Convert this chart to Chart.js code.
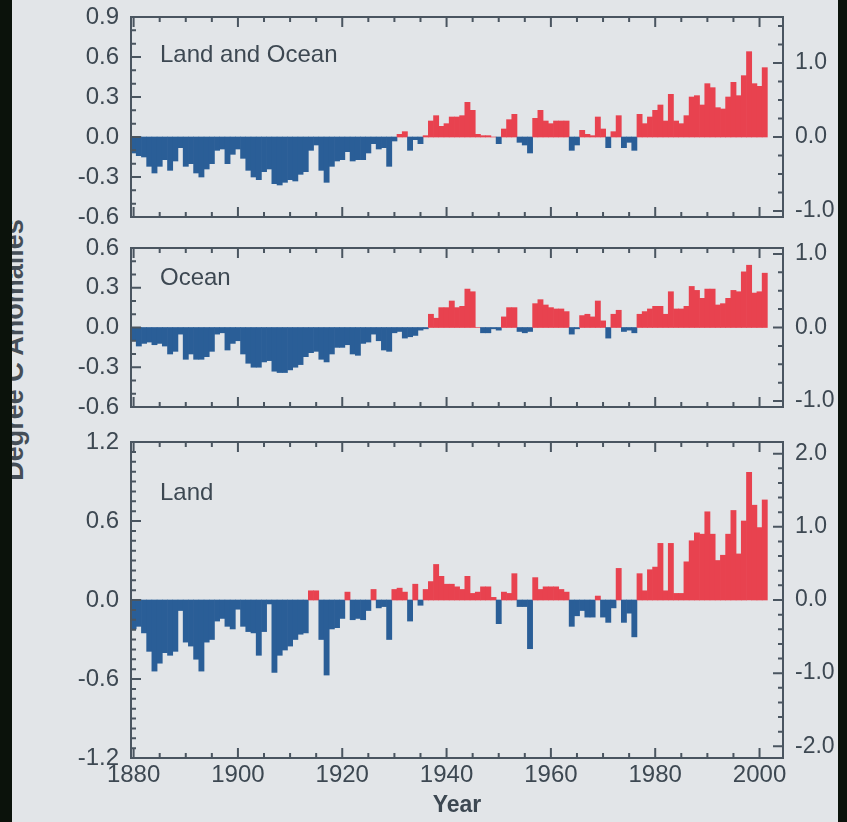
<!DOCTYPE html>
<html>
<head>
<meta charset="utf-8">
<title>Global Temperature Anomalies</title>
<script src="https://cdn.jsdelivr.net/npm/chart.js@4"></script>
<style>
  html, body { margin: 0; padding: 0; }
  body { width: 847px; height: 822px; background: #e2e5e8; position: relative; overflow: hidden;
         font-family: "Liberation Sans", Arial, sans-serif; }
  canvas { position: absolute; left: 0; }
  .edge { position: absolute; top: 0; bottom: 0; background: #0b120b; z-index: 5; }
  #ytitle { position: absolute; left: -186px; top: 335px; width: 400px; text-align: center; line-height: 30px;
            font-size: 27px; font-weight: bold; color: #454e57; transform: rotate(-90deg); }
</style>
</head>
<body>
<div id="ytitle">Degree C Anomalies</div>
<canvas id="p1" width="847" height="240" style="top:0px"></canvas>
<canvas id="p2" width="847" height="200" style="top:225px"></canvas>
<canvas id="p3" width="847" height="402" style="top:420px"></canvas>
<div class="edge" style="left:0;width:12px"></div>
<div class="edge" style="right:0;width:9px"></div>
<script>
// years 1880 - 2001
const years = Array.from({ length: 122 }, (_, i) => 1880 + i);

// annual anomalies, deg C
const landOcean = [
  -0.12, -0.14, -0.15, -0.22, -0.27, -0.22, -0.17, -0.25, -0.18, -0.08,
  -0.22, -0.20, -0.27, -0.30, -0.24, -0.20, -0.10, -0.09, -0.20, -0.13,
  -0.09, -0.16, -0.25, -0.30, -0.32, -0.26, -0.24, -0.35, -0.36, -0.34,
  -0.32, -0.33, -0.28, -0.26, -0.10, -0.06, -0.25, -0.34, -0.22, -0.18,
  -0.17, -0.11, -0.18, -0.17, -0.17, -0.12, -0.05, -0.09, -0.08, -0.22,
  -0.03, 0.02, 0.04, -0.10, -0.02, -0.05, 0.01, 0.12, 0.16, 0.08,
  0.10, 0.15, 0.15, 0.16, 0.26, 0.20, 0.02, 0.01, 0.01, 0.00,
  -0.05, 0.06, 0.13, 0.17, -0.04, -0.06, -0.12, 0.14, 0.20, 0.12,
  0.10, 0.12, 0.12, 0.12, -0.10, -0.06, 0.05, 0.02, 0.01, 0.15,
  0.06, -0.08, 0.04, 0.16, -0.08, -0.04, -0.10, 0.17, 0.10, 0.15,
  0.20, 0.24, 0.12, 0.32, 0.12, 0.10, 0.16, 0.30, 0.31, 0.24,
  0.40, 0.37, 0.22, 0.21, 0.30, 0.41, 0.31, 0.46, 0.64, 0.40,
  0.38, 0.52
];
const ocean = [
  -0.10, -0.14, -0.12, -0.11, -0.13, -0.12, -0.14, -0.20, -0.18, -0.05,
  -0.24, -0.20, -0.24, -0.24, -0.22, -0.18, -0.05, -0.04, -0.17, -0.12,
  -0.10, -0.20, -0.27, -0.30, -0.30, -0.26, -0.25, -0.33, -0.34, -0.34,
  -0.32, -0.30, -0.28, -0.22, -0.19, -0.18, -0.24, -0.26, -0.20, -0.15,
  -0.15, -0.13, -0.20, -0.21, -0.12, -0.11, -0.05, -0.10, -0.17, -0.18,
  -0.04, -0.03, -0.08, -0.07, -0.06, -0.02, -0.01, 0.10, 0.07, 0.15,
  0.15, 0.20, 0.15, 0.16, 0.29, 0.27, 0.00, -0.04, -0.04, -0.01,
  -0.02, 0.08, 0.15, 0.15, -0.03, -0.04, -0.03, 0.18, 0.21, 0.17,
  0.15, 0.14, 0.14, 0.12, -0.05, -0.01, 0.09, 0.10, 0.08, 0.20,
  0.05, -0.08, 0.10, 0.13, -0.03, -0.02, -0.04, 0.10, 0.12, 0.14,
  0.16, 0.16, 0.10, 0.27, 0.14, 0.14, 0.16, 0.31, 0.28, 0.22,
  0.29, 0.29, 0.17, 0.18, 0.22, 0.28, 0.27, 0.42, 0.47, 0.26,
  0.27, 0.41
];
const land = [
  -0.22, -0.20, -0.25, -0.39, -0.54, -0.48, -0.40, -0.42, -0.39, -0.08,
  -0.32, -0.35, -0.45, -0.54, -0.32, -0.30, -0.16, -0.14, -0.20, -0.22,
  -0.07, -0.20, -0.24, -0.25, -0.42, -0.24, -0.03, -0.55, -0.42, -0.38,
  -0.35, -0.30, -0.26, -0.25, 0.07, 0.07, -0.30, -0.57, -0.22, -0.21,
  -0.14, 0.06, -0.15, -0.14, -0.15, -0.08, 0.08, -0.06, -0.05, -0.30,
  0.08, 0.09, 0.06, -0.16, 0.12, -0.04, 0.08, 0.14, 0.27, 0.18,
  0.12, 0.12, 0.10, 0.08, 0.18, 0.05, 0.06, 0.10, 0.10, 0.02,
  -0.18, 0.06, 0.05, 0.20, -0.05, -0.05, -0.37, 0.17, 0.08, 0.10,
  0.10, 0.10, 0.08, 0.06, -0.20, -0.12, -0.08, -0.13, -0.13, 0.03,
  -0.13, -0.17, -0.06, 0.24, -0.17, -0.10, -0.28, 0.20, 0.07, 0.23,
  0.25, 0.43, 0.07, 0.43, 0.05, 0.05, 0.29, 0.45, 0.51, 0.50,
  0.67, 0.50, 0.30, 0.34, 0.50, 0.68, 0.35, 0.60, 0.97, 0.72,
  0.55, 0.76
];

// tick labels
const yearTicks = [1880, 1900, 1920, 1940, 1960, 1980, 2000];
const cTicksTop = [0.9, 0.6, 0.3, 0.0, -0.3, -0.6];
const cTicksMid = [0.6, 0.3, 0.0, -0.3, -0.6];
const cTicksLand = [1.2, 0.6, 0.0, -0.6, -1.2];
const fTicksSmall = [1.0, 0.0, -1.0];
const fTicksLand = [2.0, 1.0, 0.0, -1.0, -2.0];

const BLUE = '#2a5e97';
const RED = '#e8424f';
const INK = '#3d4852';
const FRAME = '#4a5560';
const tickFont = { family: '"Liberation Sans", Arial, sans-serif', size: 24 };

// frame, inward tick marks and panel name
const frameTicks = {
  id: 'frameTicks',
  afterDatasetsDraw(chart, args, o) {
    const { ctx, chartArea: a, scales } = chart;
    ctx.save();
    ctx.strokeStyle = FRAME;
    ctx.lineWidth = 2;
    ctx.strokeRect(a.left, a.top, a.right - a.left, a.bottom - a.top);
    ctx.beginPath();
    for (let yr = 1880; yr <= 2000; yr += 5) {
      const px = scales.x.getPixelForValue(yr);
      const len = yr % 20 === 0 ? 10 : 5;
      ctx.moveTo(px, a.top); ctx.lineTo(px, a.top + len);
      ctx.moveTo(px, a.bottom); ctx.lineTo(px, a.bottom - len);
    }
    const side = (scale, step, majors, x0, dir) => {
      const k0 = Math.ceil(scale.min / step - 1e-6);
      for (let k = k0; k * step <= scale.max + 1e-6; k++) {
        const v = k * step;
        const major = majors.some(m => Math.abs(m - v) < 1e-6);
        const py = scale.getPixelForValue(v);
        ctx.moveTo(x0, py); ctx.lineTo(x0 + dir * (major ? 10 : 5), py);
      }
    };
    side(scales.y, o.cMinor, o.cTicks, a.left, 1);
    side(scales.y2, o.fMinor, o.fTicks, a.right, -1);
    ctx.stroke();
    ctx.fillStyle = INK;
    ctx.font = '24px "Liberation Sans", Arial, sans-serif';
    ctx.textBaseline = 'alphabetic';
    ctx.fillText(o.label, a.left + 29, a.top + o.labelY);
    ctx.restore();
  }
};

// keep chart area where the frame is, labels may overhang
const noPad = s => { s.paddingTop = 0; s.paddingBottom = 0; s.paddingLeft = 0; s.paddingRight = 0; };

function panel(id, values, o) {
  new Chart(document.getElementById(id), {
    type: 'bar',
    data: {
      datasets: [{
        data: years.map((yr, i) => ({ x: yr, y: values[i] })),
        backgroundColor: values.map(v => (v < 0 ? BLUE : RED)),
        borderWidth: 0,
        barPercentage: 1,
        categoryPercentage: 1
      }]
    },
    options: {
      responsive: false,
      animation: false,
      devicePixelRatio: 1,
      layout: { padding: { top: o.padTop, bottom: o.padBottom, left: 0, right: 0 } },
      plugins: {
        legend: { display: false },
        tooltip: { enabled: false },
        frameTicks: {
          label: o.label, labelY: o.labelY,
          cTicks: o.cTicks, cMinor: o.cMinor, fTicks: o.fTicks, fMinor: o.fMinor
        }
      },
      scales: {
        x: {
          type: 'linear', min: 1879.5, max: 2004.5, offset: false,
          grid: { display: false, drawTicks: false }, border: { display: false },
          afterBuildTicks: s => { s.ticks = yearTicks.map(v => ({ value: v })); },
          afterFit: s => { s.height = o.xHeight; noPad(s); },
          ticks: { display: o.showX, padding: 3, color: INK, font: tickFont, maxRotation: 0, callback: v => String(v) },
          title: { display: o.showX, text: 'Year', color: INK, padding: { top: 0, bottom: 3 },
                   font: { family: tickFont.family, size: 23, weight: 'bold' } }
        },
        y: {
          position: 'left', min: o.cMin, max: o.cMax,
          grid: { display: false, drawTicks: false }, border: { display: false },
          afterBuildTicks: s => { s.ticks = o.cTicks.map(v => ({ value: v })); },
          afterFit: s => { s.width = 131; noPad(s); },
          ticks: { padding: 12, color: INK, font: tickFont, callback: v => v.toFixed(1) }
        },
        y2: {
          position: 'right', min: o.cMin * 1.8, max: o.cMax * 1.8,
          grid: { display: false, drawTicks: false }, border: { display: false },
          afterBuildTicks: s => { s.ticks = o.fTicks.map(v => ({ value: v })); },
          afterFit: s => { s.width = 64; noPad(s); },
          ticks: { padding: 12, color: INK, font: { family: tickFont.family, size: 23 }, callback: v => v.toFixed(1) }
        }
      }
    },
    plugins: [frameTicks]
  });
}

panel('p1', landOcean, {
  label: 'Land and Ocean', labelY: 45, cMin: -0.6, cMax: 0.9, cTicks: cTicksTop, cMinor: 0.1,
  fTicks: fTicksSmall, fMinor: 0.25, padTop: 17, padBottom: 23, xHeight: 0, showX: false
});
panel('p2', ocean, {
  label: 'Ocean', labelY: 37, cMin: -0.6, cMax: 0.6, cTicks: cTicksMid, cMinor: 0.1,
  fTicks: fTicksSmall, fMinor: 0.25, padTop: 23, padBottom: 18, xHeight: 0, showX: false
});
panel('p3', land, {
  label: 'Land', labelY: 58, cMin: -1.2, cMax: 1.2, cTicks: cTicksLand, cMinor: 0.075,
  fTicks: fTicksLand, fMinor: 0.2, padTop: 22, padBottom: 0, xHeight: 64, showX: true
});
</script>
</body>
</html>
